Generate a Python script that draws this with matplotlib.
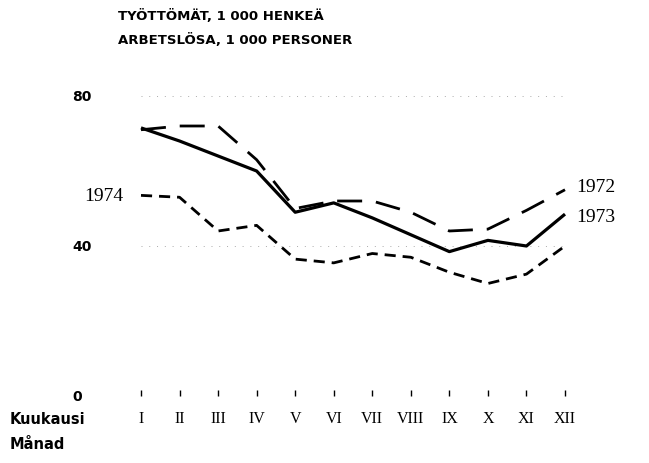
import numpy as np
import matplotlib
matplotlib.use('Agg')
import matplotlib.pyplot as plt

months = ['I', 'II', 'III', 'IV', 'V', 'VI', 'VII', 'VIII', 'IX', 'X', 'XI', 'XII']
y1972 = [71, 72, 72, 63, 50, 52, 52, 49, 44, 44.5, 49.5, 55]
y1973 = [71.5, 68, 64, 60, 49, 51.5, 47.5, 43, 38.5, 41.5, 40, 48.5]
y1974 = [53.5, 53, 44, 45.5, 36.5, 35.5, 38, 37, 33, 30, 32.5, 40]
yticks = [0, 40, 80]

x = np.arange(1, len(months) + 1)

fig = plt.figure(figsize=(6.49, 4.64), dpi=100)
ax = fig.add_axes([141 / 649, 67 / 464, 424 / 649, 300 / 464])
ax.set_xlim(1, 12)
ax.set_ylim(0, 80)

for gy in [40, 80]:
  ax.axhline(gy, color='#aaaaaa', lw=0.7, ls=(0, (1, 7)), zorder=0)

ax.plot(x, y1973, color='black', lw=2.3, solid_capstyle='butt', clip_on=False)
ax.plot(x, y1972, color='black', lw=2.0, ls=(0, (9, 5)), clip_on=False)
ax.plot(x, y1974, color='black', lw=2.0, ls=(0, (4, 2.5)), clip_on=False)

for s in ax.spines.values():
  s.set_visible(False)
ax.set_xticks(x)
ax.set_xticklabels(months, family='Liberation Serif', fontsize=11.5)
ax.tick_params(axis='x', direction='in', length=4, width=1, pad=10)
ax.set_yticks([])
for v in yticks:
  fig.text(72 / 649, (67 + v * 300 / 80) / 464, str(v), fontsize=10,
           fontweight='bold', va='center', ha='left')

fig.text(118 / 649, 1 - 16 / 464, 'TYÖTTÖMÄT, 1 000 HENKEÄ', fontsize=9.5, fontweight='bold', va='center')
fig.text(118 / 649, 1 - 40 / 464, 'ARBETSLÖSA, 1 000 PERSONER', fontsize=9.5, fontweight='bold', va='center')
fig.text(10 / 649, 1 - 419 / 464, 'Kuukausi', fontsize=10.5, fontweight='bold', va='center')
fig.text(10 / 649, 1 - 445 / 464, 'Månad', fontsize=10.5, fontweight='bold', va='center')

ax.text(0.55, y1974[0], '1974', family='Liberation Serif', fontsize=14, ha='right', va='center')
ax.text(12.3, y1972[-1] + 1, '1972', family='Liberation Serif', fontsize=14, ha='left', va='center')
ax.text(12.3, y1973[-1] - 0.5, '1973', family='Liberation Serif', fontsize=14, ha='left', va='center')

fig.savefig('out.png', dpi=100)
